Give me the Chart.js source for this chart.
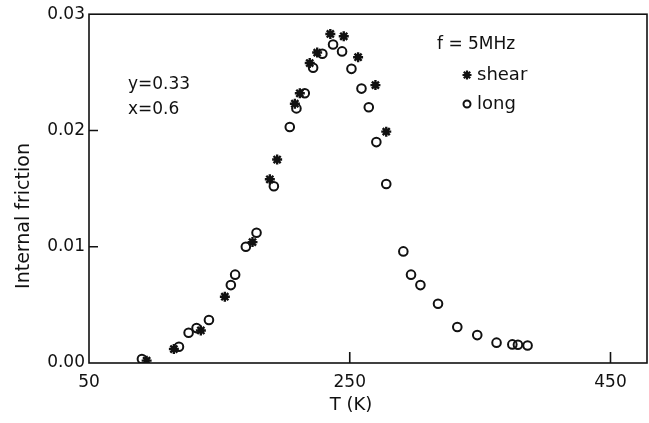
<!DOCTYPE html>
<html>
<head>
<meta charset="utf-8">
<script src="https://cdn.jsdelivr.net/npm/chart.js@4.4.0/dist/chart.umd.min.js"></script>
<style>body{margin:0;background:#fff}</style>
</head>
<body>
<canvas id="chart" width="649" height="423"></canvas>
<script>
// T (K) and internal friction
const longT = [90.6, 119, 126.4, 132.5, 142, 158.8, 162.1, 170.3, 178.5, 191.8, 204, 209.1, 215.5, 221.9, 229, 237.2, 244.1, 251.3, 259, 264.6, 270.4, 278, 291.1, 297, 304.2, 317.7, 332.5, 347.8, 362.6, 374.7, 379, 386.4];
const longQ = [0.00034, 0.0014, 0.0026, 0.0030, 0.0037, 0.0067, 0.0076, 0.0100, 0.0112, 0.0152, 0.0203, 0.0219, 0.0232, 0.0254, 0.0266, 0.0274, 0.0268, 0.0253, 0.0236, 0.0220, 0.0190, 0.0154, 0.0096, 0.0076, 0.0067, 0.0051, 0.0031, 0.0024, 0.00175, 0.0016, 0.00157, 0.0015];
const shearT = [94.2, 115.1, 135.8, 154.2, 175.4, 188.7, 194.3, 207.9, 211.7, 219.3, 225, 235.1, 245.4, 256.4, 269.7, 278];
const shearQ = [0.0002, 0.0012, 0.0028, 0.0057, 0.0104, 0.0158, 0.0175, 0.0223, 0.0232, 0.0258, 0.0267, 0.0283, 0.0281, 0.0263, 0.0239, 0.0199];
const xTicks = [50, 250, 450];
const yTicks = [0, 0.01, 0.02, 0.03];

const ink = '#111';
const font = '"DejaVu Sans", sans-serif';

const pts = (xs, ys) => xs.map((x, i) => ({x: x, y: ys[i]}));

// frame, inward ticks and the text labels
const decor = {
  id: 'decor',
  afterDraw(chart) {
    const c = chart.ctx, a = chart.chartArea;
    const xs = chart.scales.x, ys = chart.scales.y;
    c.save();
    c.strokeStyle = ink;
    c.lineWidth = 1.6;
    c.strokeRect(a.left, a.top, a.right - a.left, a.bottom - a.top);
    c.beginPath();
    xTicks.slice(1).forEach(v => {
      const px = xs.getPixelForValue(v);
      c.moveTo(px, a.bottom); c.lineTo(px, a.bottom - 11);
    });
    yTicks.slice(1, -1).forEach(v => {
      const py = ys.getPixelForValue(v);
      c.moveTo(a.left, py); c.lineTo(a.left + 9, py);
    });
    c.stroke();

    c.fillStyle = ink;
    c.font = '17px ' + font;
    c.textBaseline = 'middle';
    c.textAlign = 'left';
    c.fillText('y=0.33', 128, 85);
    c.fillText('x=0.6', 128, 110);
    c.fillText('f = 5MHz', 437, 45);
    c.font = '18px ' + font;
    c.fillText('shear', 477, 75);
    c.fillText('long', 477, 104);
    c.textAlign = 'center';
    c.fillText('T (K)', 351, 405);
    c.font = '19px ' + font;
    c.translate(24, 216);
    c.rotate(-Math.PI / 2);
    c.fillText('Internal friction', 0, 0);
    c.restore();

    // legend markers
    c.save();
    c.strokeStyle = ink;
    c.lineWidth = 2;
    c.beginPath();
    c.arc(467, 104, 3.5, 0, Math.PI * 2);
    c.stroke();
    c.lineWidth = 2.2;
    c.beginPath();
    for (let k = 0; k < 4; k++) {
      const t = k * Math.PI / 4;
      c.moveTo(467 - 4.5 * Math.cos(t), 75 - 4.5 * Math.sin(t));
      c.lineTo(467 + 4.5 * Math.cos(t), 75 + 4.5 * Math.sin(t));
    }
    c.stroke();
    c.restore();
  }
};

new Chart(document.getElementById('chart'), {
  type: 'scatter',
  data: {
    datasets: [{
      label: 'long',
      data: pts(longT, longQ),
      pointStyle: 'circle',
      pointRadius: 4.3,
      borderWidth: 2,
      borderColor: ink,
      backgroundColor: 'rgba(0,0,0,0)'
    }, {
      label: 'shear',
      data: pts(shearT, shearQ),
      pointStyle: 'star',
      pointRadius: 5,
      borderWidth: 2.4,
      borderColor: ink,
      backgroundColor: ink
    }]
  },
  options: {
    responsive: false,
    animation: false,
    layout: {autoPadding: false, padding: {top: 14, right: 2, left: 0, bottom: 0}},
    plugins: {legend: {display: false}, tooltip: {enabled: false}},
    scales: {
      x: {
        type: 'linear',
        min: 50,
        max: 478,
        afterBuildTicks: s => { s.ticks = xTicks.map(v => ({value: v})); },
        afterFit: s => { s.height = 60; },
        grid: {display: false, drawTicks: false},
        border: {display: false},
        ticks: {color: ink, padding: 9, font: {family: font, size: 17}, maxRotation: 0}
      },
      y: {
        min: 0,
        max: 0.03,
        afterBuildTicks: s => { s.ticks = yTicks.map(v => ({value: v})); },
        afterFit: s => { s.width = 89; },
        grid: {display: false, drawTicks: false},
        border: {display: false},
        ticks: {color: ink, padding: 4, font: {family: font, size: 17},
          callback: v => v.toFixed(2)}
      }
    }
  },
  plugins: [decor]
});
</script>
</body>
</html>
